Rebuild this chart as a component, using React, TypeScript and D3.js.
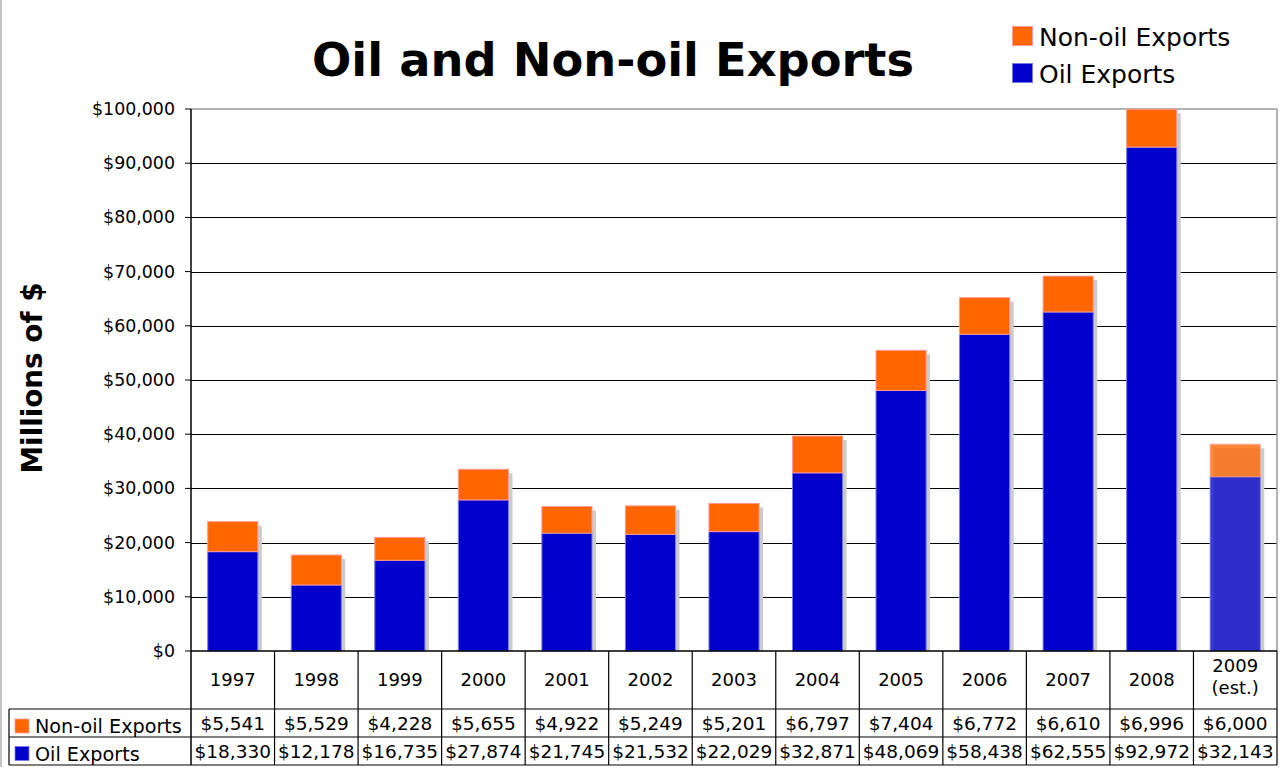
import React from 'react';
import * as d3 from 'd3';

const years = ['1997','1998','1999','2000','2001','2002','2003','2004','2005','2006','2007','2008','2009'];
const yearLabels = [['1997'],['1998'],['1999'],['2000'],['2001'],['2002'],['2003'],['2004'],['2005'],['2006'],['2007'],['2008'],['2009','(est.)']];
const nonOil = [5541,5529,4228,5655,4922,5249,5201,6797,7404,6772,6610,6996,6000];
const oil = [18330,12178,16735,27874,21745,21532,22029,32871,48069,58438,62555,92972,32143];
const estimated = [false,false,false,false,false,false,false,false,false,false,false,false,true];
const yTicks = [0,10000,20000,30000,40000,50000,60000,70000,80000,90000,100000];
const seriesNames = ['Non-oil Exports','Oil Exports'];
const seriesColors = ['#ff6600','#0000cc'];
const seriesStrokes = ['#ff9a9a','#7a7ae6'];

const FONT = '"DejaVu Sans", Verdana, sans-serif';

export default function App() {
  const W = 1284, H = 777;
  const x0 = 191, x1 = 1277, yTop = 109, yBot = 651;
  const col = d3.scaleBand<string>().domain(years).range([x0, x1]).padding(0);
  const bar = d3.scaleBand<string>().domain(years).range([x0, x1]).paddingInner(0.4).paddingOuter(0.2);
  const y = d3.scaleLinear().domain([0, 100000]).range([yBot, yTop]);
  const fmt = d3.format('$,');

  const rows = years.map((yr, i) => ({ year: yr, oil: oil[i], nonOil: nonOil[i] }));
  const stack = d3.stack<any>().keys(['oil', 'nonOil'])(rows);
  const bw = bar.bandwidth();
  const row1Top = 709, row2Top = 737, row3Bot = 765, tableLeft = 9;

  return (
    <svg width={W} height={H} style={{ position: 'absolute', left: 0, top: 0, background: '#fff' }} fontFamily={FONT}>
      <rect x={0} y={0} width={W} height={H} fill="#fff" />
      <line x1={1} x2={1} y1={0} y2={767} stroke="#c4c4c4" strokeWidth={2} />

      {/* title */}
      <text x={613} y={76} textAnchor="middle" fontSize={46.3} fontWeight="bold" fill="#000">Oil and Non-oil Exports</text>

      {/* legend */}
      {[0, 1].map(i => (
        <g key={i}>
          <rect x={1012.5} y={26.5 + i * 37} width={20} height={19} fill={seriesColors[i]} stroke={seriesStrokes[i]} strokeWidth={1} />
          <text x={1039} y={46 + i * 37} fontSize={25} fill="#000">{seriesNames[i]}</text>
        </g>
      ))}

      {/* y label */}
      <text transform={`translate(42,378) rotate(-90)`} textAnchor="middle" fontSize={27.8} fontWeight="bold" fill="#000">Millions of $</text>

      {/* gridlines */}
      {yTicks.filter(t => t > 0 && t < 100000).map(t => (
        <line key={t} x1={x0} x2={x1} y1={Math.round(y(t)) + 0.5} y2={Math.round(y(t)) + 0.5} stroke="#000" strokeWidth={1} />
      ))}
      {/* frame top & right */}
      <line x1={x0} x2={x1} y1={yTop} y2={yTop} stroke="#999" strokeWidth={1.5} />
      <line x1={x1} x2={x1} y1={yTop} y2={yBot} stroke="#999" strokeWidth={1.5} />

      {/* bars */}
      {years.map((yr, i) => {
        const bx = bar(yr)!;
        const total = oil[i] + nonOil[i];
        const op = estimated[i] ? 0.78 : 1;
        return (
          <g key={yr}>
            <rect x={bx} y={y(total)} width={bw} height={yBot - y(total)} fill="#fff" />
            <rect x={bx + 4} y={y(total) + 4} width={bw} height={yBot - y(total) - 4} fill="#cccccc" />
            {stack.map((s, k) => {
              const d = s[i];
              return (
                <rect key={k} x={bx} y={y(d[1])} width={bw} height={y(d[0]) - y(d[1])}
                  fill={seriesColors[1 - k]} fillOpacity={op}
                  stroke={seriesStrokes[1 - k]} strokeWidth={1} strokeOpacity={op} />
              );
            })}
          </g>
        );
      })}

      {/* y axis */}
      <line x1={x0} x2={x0} y1={yTop} y2={row3Bot} stroke="#000" strokeWidth={1.5} />
      {yTicks.map(t => (
        <g key={t}>
          <line x1={x0 - 6} x2={x0} y1={y(t)} y2={y(t)} stroke="#000" strokeWidth={1} />
          <text x={175} y={y(t) + 6} textAnchor="end" fontSize={17.4} fill="#000">{fmt(t)}</text>
        </g>
      ))}
      {/* x axis */}
      <line x1={x0} x2={x1} y1={yBot} y2={yBot} stroke="#000" strokeWidth={1.5} />

      {/* table */}
      <line x1={tableLeft} x2={x1} y1={row1Top} y2={row1Top} stroke="#000" strokeWidth={1.2} />
      <line x1={tableLeft} x2={x1} y1={row2Top} y2={row2Top} stroke="#000" strokeWidth={1.2} />
      <line x1={tableLeft} x2={x1} y1={row3Bot} y2={row3Bot} stroke="#000" strokeWidth={1.2} />
      <line x1={tableLeft} x2={tableLeft} y1={row1Top} y2={row3Bot} stroke="#000" strokeWidth={1.2} />
      {years.map((yr) => (
        <line key={yr} x1={col(yr)! + col.bandwidth()} x2={col(yr)! + col.bandwidth()} y1={yBot} y2={row3Bot} stroke="#000" strokeWidth={1.2} />
      ))}
      {years.map((yr, i) => {
        const cx = col(yr)! + col.bandwidth() / 2;
        const lines = yearLabels[i];
        return (
          <g key={yr}>
            {lines.length === 1 ? (
              <text x={cx} y={686} textAnchor="middle" fontSize={18} fill="#000">{lines[0]}</text>
            ) : (
              lines.map((l, j) => (
                <text key={j} x={cx} y={672 + j * 22} textAnchor="middle" fontSize={18} fill="#000">{l}</text>
              ))
            )}
            <text x={cx} y={730} textAnchor="middle" fontSize={18.5} fill="#000">{fmt(nonOil[i])}</text>
            <text x={cx} y={758} textAnchor="middle" fontSize={18.5} fill="#000">{fmt(oil[i])}</text>
          </g>
        );
      })}
      {[0, 1].map(i => (
        <g key={i}>
          <rect x={15} y={719 + i * 27.5} width={14} height={14} fill={seriesColors[i]} stroke={seriesStrokes[i]} strokeWidth={0.8} />
          <text x={35} y={733 + i * 27.5} fontSize={19.2} fill="#000">{seriesNames[i]}</text>
        </g>
      ))}
    </svg>
  );
}
